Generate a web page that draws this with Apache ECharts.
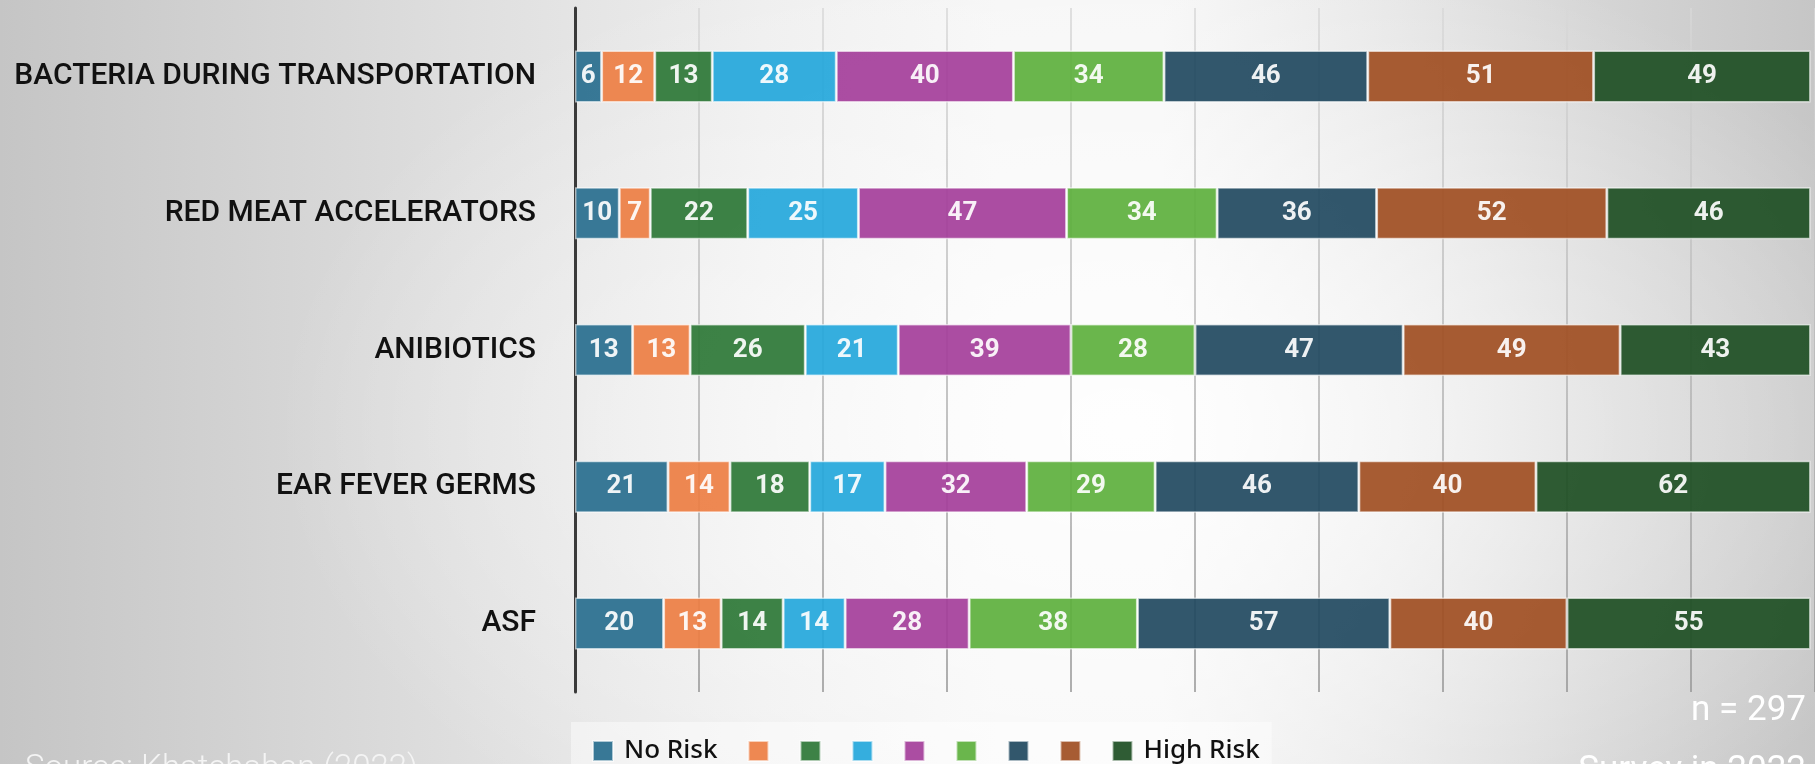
<!DOCTYPE html>
<html>
<head>
<meta charset="utf-8">
<title>Risk perception survey</title>
<script src="https://cdn.jsdelivr.net/npm/echarts@6/dist/echarts.min.js"></script>
<style>
  html, body { margin: 0; padding: 0; }
  body {
    width: 1815px; height: 764px; overflow: hidden;
    background:
      radial-gradient(ellipse 850px 520px at 62% 56%, rgba(255,255,255,0.9) 0%, rgba(255,255,255,0) 100%),
      linear-gradient(to right, #c5c5c5 0%, #d3d3d3 14%, #e3e3e3 30%, #eeeeee 42%, #f6f6f6 55%, #f6f6f6 64%, #e8e8e8 75%, #d5d5d5 88%, #c6c6c6 100%);
  }
  #chart { width: 1815px; height: 764px; }
</style>
</head>
<body>
<div id="chart"></div>
<script>
// Hazards asked about in the survey, top to bottom
const categories = [
  'BACTERIA DURING TRANSPORTATION',
  'RED MEAT ACCELERATORS',
  'ANIBIOTICS',
  'EAR FEVER GERMS',
  'ASF'
];

// Number of respondents per rating level, one array per level (No Risk -> High Risk)
const level1 = [6, 10, 13, 21, 20];
const level2 = [12, 7, 13, 14, 13];
const level3 = [13, 22, 26, 18, 14];
const level4 = [28, 25, 21, 17, 14];
const level5 = [40, 47, 39, 32, 28];
const level6 = [34, 34, 28, 29, 38];
const level7 = [46, 36, 47, 46, 57];
const level8 = [51, 52, 49, 40, 40];
const level9 = [49, 46, 43, 62, 55];

const levels = [level1, level2, level3, level4, level5, level6, level7, level8, level9];
const levelNames = ['No Risk', 'Level 2', 'Level 3', 'Level 4', 'Level 5', 'Level 6', 'Level 7', 'Level 8', 'High Risk'];
const shownNames = { 'No Risk': true, 'High Risk': true };

const colors = ['#286E8E', '#ED7E43', '#2C7736', '#24A7DB', '#A43E9A', '#5DB03D', '#21495F', '#9F4E22', '#1D4E23'];

const sampleNote = 'n = 297';
const surveyNote = 'Survey in 2022';
const sourceNote = 'Source: Khatchaban (2022)';

const chart = echarts.init(document.getElementById('chart'), null, { renderer: 'canvas' });

const series = levels.map((vals, i) => ({
  name: levelNames[i],
  type: 'bar',
  stack: 'total',
  barWidth: '38%',
  data: vals,
  itemStyle: {
    color: colors[i],
    opacity: 0.92,
    borderColor: 'rgba(255,255,255,0.65)',
    borderWidth: 1.5
  },
  label: {
    show: true,
    position: 'inside',
    color: '#ffffff',
    fontFamily: 'Roboto',
    fontWeight: 'bold',
    fontSize: 26
  },
  emphasis: { disabled: true }
}));

chart.setOption({
  backgroundColor: 'transparent',
  animation: false,
  grid: { left: 575, right: 0, top: 8, bottom: 72, containLabel: false },
  xAxis: {
    type: 'value',
    min: 0,
    max: 280,
    interval: 28,
    axisLine: { show: false },
    axisTick: { show: false },
    axisLabel: { show: false },
    splitLine: {
      show: true,
      lineStyle: {
        width: 1.5,
        color: new echarts.graphic.LinearGradient(0, 0, 0, 1, [
          { offset: 0, color: '#d8d8d8' },
          { offset: 1, color: '#949494' }
        ])
      }
    }
  },
  yAxis: {
    type: 'category',
    inverse: true,
    data: categories,
    axisLine: { show: true, lineStyle: { color: '#3a3a3a', width: 3 } },
    axisTick: { show: false },
    axisLabel: {
      margin: 39,
      color: '#111111',
      fontFamily: 'Roboto',
      fontWeight: 500,
      fontSize: 30
    }
  },
  legend: {
    left: 571,
    top: 722,
    padding: [16, 12, 16, 21],
    itemGap: 30,
    itemWidth: 20,
    itemHeight: 20,
    icon: 'rect',
    backgroundColor: 'rgba(255,255,255,0.45)',
    selectedMode: false,
    data: levelNames,
    formatter: name => shownNames[name] ? '{t|' + name + '}' : '',
    textStyle: {
      rich: {
        t: {
          fontFamily: 'Noto Sans',
          fontWeight: 500,
          fontSize: 26,
          color: '#111111',
          padding: [0, 0, 0, 6]
        }
      }
    }
  },
  graphic: [
    {
      type: 'text',
      right: 9,
      top: 694,
      style: { text: sampleNote, fill: '#ffffff', font: '400 35px Roboto' }
    },
    {
      type: 'text',
      right: 9,
      top: 754,
      style: { text: surveyNote, fill: '#ffffff', font: '400 35px Roboto' }
    },
    {
      type: 'text',
      left: 25,
      top: 753,
      style: { text: sourceNote, fill: '#f4f4f4', font: '300 33px Roboto' }
    }
  ],
  series: series
});
</script>
</body>
</html>
